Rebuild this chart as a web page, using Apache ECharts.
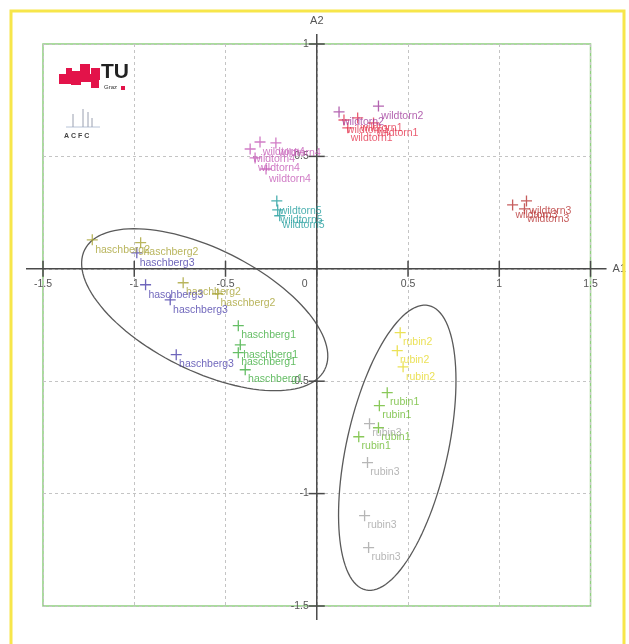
<!DOCTYPE html>
<html>
<head>
<meta charset="utf-8">
<script src="https://cdn.jsdelivr.net/npm/echarts@6/dist/echarts.min.js"></script>
<style>html,body{margin:0;padding:0;background:#fff;}#c{width:629px;height:644px;}</style>
</head>
<body>
<div id="c"></div>
<script>
// ---- data ----
const xTicks = [-1.5, -1, -0.5, 0, 0.5, 1, 1.5];
const yTicks = [-1.5, -1, -0.5, 0, 0.5, 1];
const xTickLabels = ['-1.5', '-1', '-0.5', '0', '0.5', '1', '1.5'];
const yTickLabels = ['-1.5', '-1', '-0.5', '', '0.5', '1'];

const wildtorn4 = [[-0.365,0.533],[-0.311,0.564],[-0.224,0.560],[-0.278,0.444],[-0.338,0.493]];
const wildtorn2 = [[0.122,0.698],[0.338,0.724]];
const wildtorn1 = [[0.149,0.662],[0.224,0.671],[0.311,0.649],[0.170,0.627]];
const wildtorn5 = [[-0.219,0.302],[-0.214,0.262],[-0.203,0.236]];
const wildtorn3 = [[1.073,0.284],[1.149,0.302],[1.138,0.267]];
const haschberg2 = [[-1.230,0.129],[-0.965,0.116],[-0.732,-0.062],[-0.543,-0.111]];
const haschberg3 = [[-0.986,0.071],[-0.938,-0.071],[-0.803,-0.138],[-0.770,-0.382]];
const haschberg1 = [[-0.430,-0.253],[-0.419,-0.338],[-0.430,-0.373],[-0.392,-0.449]];
const rubin2 = [[0.457,-0.284],[0.441,-0.364],[0.473,-0.436]];
const rubin1 = [[0.386,-0.551],[0.343,-0.609],[0.338,-0.707],[0.230,-0.747]];
const rubin3 = [[0.289,-0.689],[0.278,-0.862],[0.262,-1.098],[0.284,-1.240]];

// ellipses: [centerX, centerY, semiMajor, semiMinor (x units), screen angle deg]
const ellipseHaschberg = [-0.614, -0.182, 0.735, 0.334, 26.5];
const ellipseRubin = [0.441, -0.796, 0.798, 0.278, 102.5];

const groups = [
  {name:'wildtorn4', data:wildtorn4, color:'#c45ab6'},
  {name:'wildtorn5', data:wildtorn5, color:'#1f9c9c'},
  {name:'wildtorn3', data:wildtorn3, color:'#b83434'},
  {name:'wildtorn1', data:wildtorn1, color:'#e5344e'},
  {name:'wildtorn2', data:wildtorn2, color:'#a03c9c'},
  {name:'haschberg2', data:haschberg2, color:'#a8a234'},
  {name:'haschberg3', data:haschberg3, color:'#4a3eaa'},
  {name:'haschberg1', data:haschberg1, color:'#3fae3f'},
  {name:'rubin2', data:rubin2, color:'#e6da2c'},
  {name:'rubin1', data:rubin1, color:'#6cba30'},
  {name:'rubin3', data:rubin3, color:'#a4a4a4'}
];

const FONT = '"Liberation Sans", Arial, sans-serif';
const chart = echarts.init(document.getElementById('c'), null, {renderer:'canvas'});

const scatterSeries = groups.map(g => ({
  type:'scatter', name:g.name, data:g.data, z:5,
  symbol:'path://M5,0V10M0,5H10', symbolSize:11,
  itemStyle:{color:g.color, borderColor:g.color, borderWidth:1.3},
  label:{show:true, formatter:g.name, position:[9,16], align:'left', verticalAlign:'middle',
    color:g.color, fontSize:10.5, fontFamily:FONT},
  emphasis:{disabled:true}, silent:true
}));

function ellipseRender(params, api){
  const c = api.coord([api.value(0), api.value(1)]);
  const s = api.size([1,1]);
  const a = api.value(2)*s[0], b = api.value(3)*s[0];
  const ang = api.value(4)*Math.PI/180;
  const pts = [];
  for (let i=0;i<=120;i++){
    const t = i/120*Math.PI*2;
    const ex = a*Math.cos(t), ey = b*Math.sin(t);
    pts.push([c[0] + ex*Math.cos(ang) - ey*Math.sin(ang), c[1] + ex*Math.sin(ang) + ey*Math.cos(ang)]);
  }
  return {type:'polyline', shape:{points:pts}, style:{fill:null, stroke:'#5a5a5a', lineWidth:1.3}};
}

const tickFont = '10.5px "Liberation Sans", Arial, sans-serif';
function axesRender(params, api){
  const cs = params.coordSys;
  const o = api.coord([0,0]);
  const st = {stroke:'#4a4a4a', lineWidth:1.5};
  const children = [
    {type:'line', shape:{x1:cs.x-17, y1:o[1], x2:cs.x+cs.width+16, y2:o[1]}, style:st},
    {type:'line', shape:{x1:o[0], y1:cs.y-10, x2:o[0], y2:cs.y+cs.height+14}, style:st}
  ];
  xTicks.forEach((v,i) => {
    const p = api.coord([v,0]);
    children.push({type:'line', shape:{x1:p[0], y1:p[1]-8, x2:p[0], y2:p[1]+8}, style:st});
    children.push({type:'text', x:p[0] + (v===0 ? -12 : 0), y:p[1]+10,
      style:{text:xTickLabels[i], fill:'#555', font:tickFont, align:'center', verticalAlign:'top'}});
  });
  yTicks.forEach((v,i) => {
    if (v===0) return;
    const p = api.coord([0,v]);
    children.push({type:'line', shape:{x1:p[0]-8, y1:p[1], x2:p[0]+8, y2:p[1]}, style:st});
    children.push({type:'text', x:p[0]-8, y:p[1],
      style:{text:yTickLabels[i], fill:'#555', font:tickFont, align:'right', verticalAlign:'middle'}});
  });
  return {type:'group', children};
}

const red = '#e3134a';
const option = {
  animation:false,
  backgroundColor:'#ffffff',
  grid:{left:43, right:31, top:44, bottom:38, show:true, borderColor:'#8fd07f', borderWidth:1.5, backgroundColor:'transparent'},
  xAxis:{type:'value', min:-1.5, max:1.5, interval:0.5,
    name:'A1', nameLocation:'end', nameGap:22, nameTextStyle:{color:'#555', fontSize:11, fontFamily:FONT},
    axisLine:{show:false, onZero:true},
    axisTick:{show:false},
    axisLabel:{show:false},
    splitLine:{show:true, lineStyle:{color:'#c4c4c4', type:[3,3], width:1}}
  },
  yAxis:{type:'value', min:-1.5, max:1, interval:0.5,
    name:'A2', nameLocation:'end', nameGap:18, nameTextStyle:{color:'#555', fontSize:11, fontFamily:FONT},
    axisLine:{show:false, onZero:true},
    axisTick:{show:false},
    axisLabel:{show:false},
    splitLine:{show:true, lineStyle:{color:'#c4c4c4', type:[3,3], width:1}}
  },
  graphic:[
    {type:'rect', shape:{x:11, y:11, width:613, height:642}, style:{fill:null, stroke:'#f7e64a', lineWidth:3}, z:100},
    // TU Graz logo
    {type:'group', z:50, children:[
      {type:'rect', shape:{x:59, y:74, width:12, height:10}, style:{fill:red}},
      {type:'rect', shape:{x:66, y:68, width:6, height:6}, style:{fill:red}},
      {type:'rect', shape:{x:71, y:71, width:10, height:14}, style:{fill:red}},
      {type:'rect', shape:{x:80, y:64, width:10, height:10}, style:{fill:red}},
      {type:'rect', shape:{x:81, y:74, width:10, height:8}, style:{fill:red}},
      {type:'rect', shape:{x:91, y:68, width:9, height:12}, style:{fill:red}},
      {type:'rect', shape:{x:91, y:80, width:8, height:8}, style:{fill:red}},
      {type:'text', x:101, y:62, style:{text:'TU', fill:'#222', font:'bold 21px "Liberation Sans Narrow", "Liberation Sans", Arial'}},
      {type:'text', x:104, y:84, style:{text:'Graz', fill:'#333', font:'6px "Liberation Sans", Arial'}},
      {type:'rect', shape:{x:121, y:86, width:4, height:4}, style:{fill:red}}
    ]},
    // ACFC logo
    {type:'group', z:50, children:[
      {type:'line', shape:{x1:66, y1:127, x2:100, y2:127}, style:{stroke:'#b8c4d8', lineWidth:1}},
      {type:'line', shape:{x1:73, y1:127, x2:73, y2:114}, style:{stroke:'#9aa0b0', lineWidth:1}},
      {type:'line', shape:{x1:83, y1:127, x2:83, y2:109}, style:{stroke:'#9aa0b0', lineWidth:1}},
      {type:'line', shape:{x1:88, y1:127, x2:88, y2:112}, style:{stroke:'#9aa0b0', lineWidth:1}},
      {type:'line', shape:{x1:92, y1:127, x2:92, y2:118}, style:{stroke:'#9aa0b0', lineWidth:1}},
      {type:'text', x:64, y:133, style:{text:'A C F C', fill:'#444', font:'bold 7px "Liberation Sans", Arial'}}
    ]}
  ],
  series:[
    {type:'custom', name:'ellipses', data:[ellipseHaschberg, ellipseRubin], renderItem:ellipseRender,
      encode:{x:0, y:1}, clip:false, z:3, silent:true},
    {type:'custom', name:'axes', data:[[0,0]], renderItem:axesRender, encode:{x:0, y:1}, clip:false, z:4, silent:true}
  ].concat(scatterSeries)
};
chart.setOption(option);
</script>
</body>
</html>
